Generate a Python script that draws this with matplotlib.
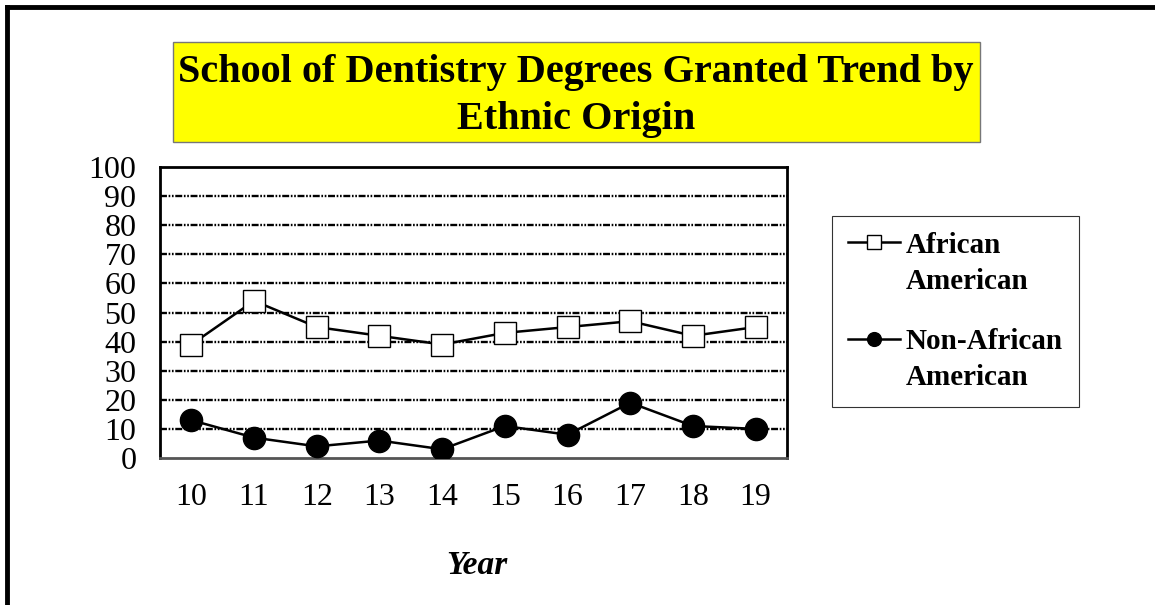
import matplotlib
matplotlib.use("Agg")
import matplotlib.pyplot as plt
from matplotlib.patches import Rectangle
from matplotlib.lines import Line2D
from matplotlib.legend_handler import HandlerLine2D

years = ["10", "11", "12", "13", "14", "15", "16", "17", "18", "19"]
african_american = [39, 54, 45, 42, 39, 43, 45, 47, 42, 45]
non_african_american = [13, 7, 4, 6, 3, 11, 8, 19, 11, 10]
y_ticks = [0, 10, 20, 30, 40, 50, 60, 70, 80, 90, 100]
title = "School of Dentistry Degrees Granted Trend by\nEthnic Origin"
series_labels = ["African\nAmerican", "Non-African\nAmerican"]

plt.rcParams['font.family'] = ['Liberation Serif', 'DejaVu Serif']
plt.rcParams['lines.scale_dashes'] = False

W, H = 1155, 605
fig = plt.figure(figsize=(W / 100, H / 100), dpi=100)

# outer frame lines (top and left)
fig.add_artist(Line2D([7 / W, 1.0], [1 - 7 / H, 1 - 7 / H], color='black', lw=3.5,
                      transform=fig.transFigure))
fig.add_artist(Line2D([7 / W, 7 / W], [0, 1 - 7 / H], color='black', lw=3.5,
                      transform=fig.transFigure))

ax = fig.add_axes([160 / W, 1 - 458 / H, (787 - 160) / W, (458 - 167) / H])
x = list(range(len(years)))

l1, = ax.plot(x, african_american, color='black', lw=1.8, marker='s', markersize=15.5,
              markerfacecolor='white', markeredgecolor='black', markeredgewidth=1.0,
              label=series_labels[0], zorder=3)
l2, = ax.plot(x, non_african_american, color='black', lw=1.8, marker='o', markersize=16,
              markerfacecolor='black', markeredgecolor='black',
              label=series_labels[1], zorder=3)

ax.set_xlim(-0.5, len(years) - 0.5)
ax.set_ylim(0, 100)
ax.set_yticks(y_ticks)
ax.set_yticklabels([str(v) for v in y_ticks], fontsize=23)
ax.set_xticks(x)
ax.set_xticklabels(years, fontsize=23)
ax.tick_params(axis='x', length=0, pad=18)
ax.tick_params(axis='y', length=0, pad=17)
for lab in ax.get_yticklabels():
    lab.set_verticalalignment('center_baseline')

dash = (0, (5.0, 1.2, 1.2, 1.2, 1.2, 1.2))
for v in y_ticks[1:-1]:
    ax.axhline(v, color='black', lw=1.7, linestyle=dash, zorder=1)

for s in ax.spines.values():
    s.set_linewidth(2.0)
    s.set_color('black')
ax.spines['bottom'].set_color('#555555')

# title box
fig.add_artist(Rectangle((173 / W, 1 - 142 / H), (980 - 173) / W, (142 - 42) / H,
                         transform=fig.transFigure, facecolor='#FFFF00',
                         edgecolor='#777777', lw=1))
fig.text(576 / W, 1 - 96 / H, title, ha='center', va='center', fontsize=29,
         fontweight='bold', linespacing=1.33)

fig.text(477 / W, 1 - 566 / H, "Year", ha='center', va='center', fontsize=24,
         fontweight='bold', fontstyle='italic')


class TopLineHandler(HandlerLine2D):
    """Place legend handle level with the first line of a two-line label."""
    def create_artists(self, legend, orig_handle, xdescent, ydescent, width,
                       height, fontsize, trans):
        return super().create_artists(legend, orig_handle, xdescent,
                                      ydescent - 31, width, height, fontsize, trans)


leg = fig.legend(handles=[l1, l2], labels=series_labels,
                 loc='upper left', bbox_to_anchor=(832 / W, 1 - 216 / H),
                 frameon=True, fancybox=False, edgecolor='black',
                 prop={'weight': 'bold', 'size': 21}, handlelength=1.78,
                 borderpad=0.55, labelspacing=1.15, handletextpad=0.2,
                 markerscale=0.62, borderaxespad=0,
                 handler_map={Line2D: TopLineHandler()})
leg.get_frame().set_linewidth(0.8)
for t in leg.get_texts():
    t.set_linespacing(1.42)

fig.savefig("out.png", dpi=100)
